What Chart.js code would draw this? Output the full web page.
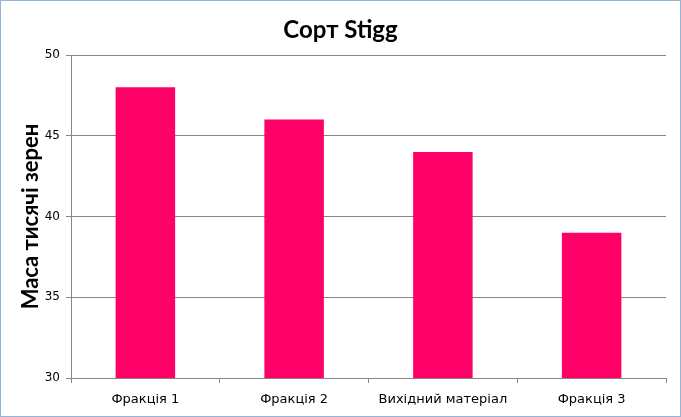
<!DOCTYPE html>
<html>
<head>
<meta charset="utf-8">
<script src="https://cdn.jsdelivr.net/npm/chart.js@4"></script>
<style>
  html, body { margin: 0; padding: 0; background: #ffffff; }
  #wrap { position: absolute; left: 0; top: 0; width: 681px; height: 417px; }
</style>
</head>
<body>
<div id="wrap"><canvas id="c" width="681" height="417"></canvas></div>
<script>
const chartTitle = 'Сорт Stigg';
const yAxisTitle = 'Маса тисячі зерен';
const categories = ['Фракція 1', 'Фракція 2', 'Вихідний матеріал', 'Фракція 3'];
const values = [48, 46, 44, 39];
const yMin = 30;
const yMax = 50;
const yStep = 5;

const borderPlugin = {
  id: 'outerBorder',
  afterDraw(chart) {
    const ctx = chart.ctx;
    ctx.save();
    ctx.strokeStyle = '#95B3D7';
    ctx.lineWidth = 1;
    ctx.strokeRect(0.5, 0.5, chart.width - 1, chart.height - 1);
    ctx.restore();
  }
};

new Chart(document.getElementById('c'), {
  type: 'bar',
  data: {
    labels: categories,
    datasets: [{
      data: values,
      backgroundColor: '#FF0066',
      borderWidth: 0,
      categoryPercentage: 1.0,
      barPercentage: 0.4
    }]
  },
  options: {
    responsive: false,
    animation: false,
    devicePixelRatio: 1,
    layout: { padding: { left: 0, right: 0, top: 0, bottom: 0 } },
    plugins: {
      legend: { display: false },
      tooltip: { enabled: false },
      title: {
        display: true,
        text: chartTitle,
        color: '#000000',
        font: { family: 'Lato', size: 24, weight: 'bold', lineHeight: 1.2 },
        padding: { top: 16, bottom: 10.2 }
      }
    },
    scales: {
      x: {
        afterFit(scale) { scale.height = 39; },
        grid: {
          offset: true,
          drawOnChartArea: false,
          drawTicks: true,
          tickLength: 5,
          color: '#868686'
        },
        border: { display: true, color: '#868686', width: 1 },
        ticks: {
          color: '#000000',
          font: { family: 'DejaVu Sans', size: 13 },
          padding: 9,
          maxRotation: 0,
          autoSkip: false
        }
      },
      y: {
        min: yMin,
        max: yMax,
        afterFit(scale) { scale.width = 71; },
        grid: {
          color: '#868686',
          drawTicks: true,
          tickLength: 5
        },
        border: { display: true, color: '#868686', width: 1 },
        ticks: {
          stepSize: yStep,
          color: '#000000',
          font: { family: 'DejaVu Sans', size: 12 },
          padding: 6
        },
        title: {
          display: true,
          text: yAxisTitle,
          color: '#000000',
          font: { family: 'Lato', size: 22, weight: 'bold', lineHeight: 1.2 },
          padding: { top: 18, bottom: 0 }
        }
      },
      yRight: {
        type: 'linear',
        position: 'right',
        min: yMin,
        max: yMax,
        afterFit(scale) { scale.width = 15; },
        grid: { display: false },
        border: { display: false },
        ticks: { display: false }
      }
    }
  },
  plugins: [borderPlugin]
});
</script>
</body>
</html>
